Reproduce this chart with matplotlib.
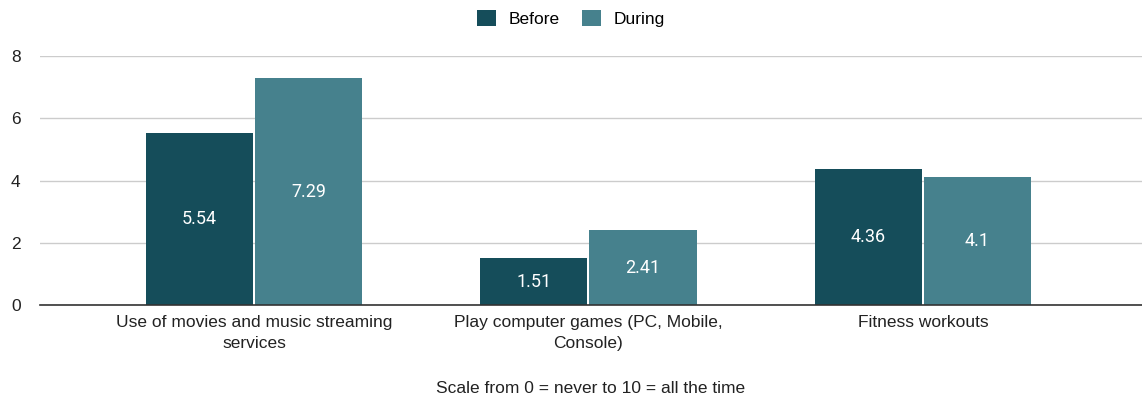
import numpy as np
import matplotlib.pyplot as plt

categories = ["Use of movies and music streaming\nservices",
              "Play computer games (PC, Mobile,\nConsole)",
              "Fitness workouts"]
before = [5.54, 1.51, 4.36]
during = [7.29, 2.41, 4.1]
series_names = ["Before", "During"]
colors = ["#154d5a", "#46818d"]

plt.rcParams['font.family'] = ['Liberation Sans', 'DejaVu Sans']

fig = plt.figure(figsize=(11.42, 4.04), dpi=100)
ax = fig.add_axes([0.035, 0.245, 0.965, 0.616])

x = np.arange(len(categories))
w = 0.32
gap = 0.003
b1 = ax.bar(x - w / 2 - gap, before, w, color=colors[0], label=series_names[0])
b2 = ax.bar(x + w / 2 + gap, during, w, color=colors[1], label=series_names[1])

for bars, vals in [(b1, before), (b2, during)]:
    for rect, v in zip(bars, vals):
        ax.text(rect.get_x() + rect.get_width() / 2, v / 2, f"{v:g}",
                ha='center', va='center', color='white', fontsize=13,
                family=['Roboto', 'DejaVu Sans'])

ax.set_xlim(-0.64, 2.655)
ax.set_ylim(0, 8)
ax.set_yticks([0, 2, 4, 6, 8])
ax.yaxis.grid(True, color='#cccccc', linewidth=1)
ax.set_axisbelow(True)
for s in ['top', 'right', 'left']:
    ax.spines[s].set_visible(False)
ax.spines['bottom'].set_color('#333333')
ax.spines['bottom'].set_linewidth(1.2)
ax.tick_params(axis='both', length=0, labelsize=12.5, colors='#222222')
ax.tick_params(axis='y', pad=14)
ax.tick_params(axis='x', pad=7)
ax.set_xticks(x)
ax.set_xticklabels(categories, linespacing=1.5)
ax.set_xlabel("Scale from 0 = never to 10 = all the time", fontsize=12.5,
              color='#222222', labelpad=22)

fig.legend(handles=[b1, b2], loc='center', bbox_to_anchor=(0.5, 0.955), ncol=2,
           frameon=False, fontsize=12.5, handlelength=1.1, handleheight=1.1,
           columnspacing=1.3, handletextpad=0.7)

fig.savefig("out.png", dpi=100)
